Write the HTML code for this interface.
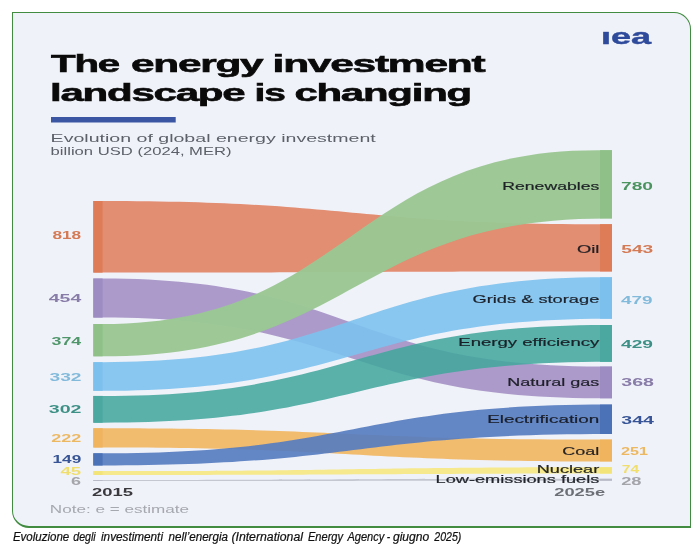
<!DOCTYPE html>
<html lang="en"><head><meta charset="utf-8"><title>The energy investment landscape is changing</title>
<style>
html,body{margin:0;padding:0;background:#fff;}
body{width:700px;height:551px;position:relative;overflow:hidden;font-family:"Liberation Sans",sans-serif;}
.frame{position:absolute;left:12px;top:11.8px;width:679.2px;height:516px;box-sizing:border-box;border:solid #418c40;border-width:1.4px 1.4px 2px 1.8px;border-radius:0 17px 0 17px;background:#f0f2f9;}
svg{position:absolute;left:0;top:0;}
svg text{font-family:"Liberation Sans",sans-serif;}
</style></head><body>
<div class="frame"></div>
<svg width="700" height="551" viewBox="0 0 700 551">
<rect x="51" y="117" width="124.7" height="5.5" fill="#3b57a3"/>
<g>
<path d="M93.3 201.0L102.6 201.0C351.3 201.0 351.3 224.2 600 224.2L612.0 224.2L612.0 271.4L600 271.4C351.3 271.4 351.3 272.6 102.6 272.6L93.3 272.6Z" fill="#e08769" fill-opacity="0.94"/>
<rect x="93.3" y="201.0" width="9.3" height="71.6" fill="#de7c58"/>
<rect x="600.0" y="224.2" width="12.0" height="47.2" fill="#de7c58"/>
<path d="M93.3 278.5L102.6 278.5C351.3 278.5 351.3 366.6 600 366.6L612.0 366.6L612.0 398.3L598 398.3C350.3 398.3 350.3 317.6 102.6 317.6L93.3 317.6Z" fill="#a795c7" fill-opacity="0.94"/>
<rect x="93.3" y="278.5" width="9.3" height="39.1" fill="#9c8cc2"/>
<rect x="600.0" y="366.6" width="12.0" height="31.7" fill="#9c8cc2"/>
<path d="M93.3 428.3L102.6 428.3C351.3 428.3 351.3 439.6 600 439.6L612.0 439.6L612.0 461.4L600 461.4C351.3 461.4 351.3 447.5 102.6 447.5L93.3 447.5Z" fill="#f1b866" fill-opacity="0.94"/>
<rect x="93.3" y="428.3" width="9.3" height="19.2" fill="#f0b45f"/>
<rect x="600.0" y="439.6" width="12.0" height="21.8" fill="#f0b45f"/>
<path d="M93.3 324.1L102.6 324.1C349.8 324.1 349.8 150.2 597 150.2L612.0 150.2L612.0 218.4L606 218.4C354.3 218.4 354.3 356.3 102.6 356.3L93.3 356.3Z" fill="#9ac793" fill-opacity="0.965"/>
<rect x="93.3" y="324.1" width="9.3" height="32.2" fill="#8fc088"/>
<rect x="600.0" y="150.2" width="12.0" height="68.2" fill="#8fc088"/>
<path d="M93.3 362.2L102.6 362.2C354.3 362.2 354.3 277.3 606 277.3L612.0 277.3L612.0 318.7L608 318.7C355.3 318.7 355.3 390.8 102.6 390.8L93.3 390.8Z" fill="#7dc2ee" fill-opacity="0.9"/>
<rect x="93.3" y="362.2" width="9.3" height="28.6" fill="#7cc1ed"/>
<rect x="600.0" y="277.3" width="12.0" height="41.4" fill="#7cc1ed"/>
<path d="M93.3 395.9L102.6 395.9C354.3 395.9 354.3 325.0 606 325.0L612.0 325.0L612.0 361.8L610 361.8C356.3 361.8 356.3 422.7 102.6 422.7L93.3 422.7Z" fill="#43a69d" fill-opacity="0.87"/>
<rect x="93.3" y="395.9" width="9.3" height="26.8" fill="#4aa8a0"/>
<rect x="600.0" y="325.0" width="12.0" height="36.8" fill="#4aa8a0"/>
<path d="M93.3 453.3L102.6 453.3C354.3 453.3 354.3 404.6 606 404.6L612.0 404.6L612.0 434.0L608 434.0C355.3 434.0 355.3 465.5 102.6 465.5L93.3 465.5Z" fill="#577dc0" fill-opacity="0.92"/>
<rect x="93.3" y="453.3" width="9.3" height="12.2" fill="#4b72b6"/>
<rect x="600.0" y="404.6" width="12.0" height="29.4" fill="#4b72b6"/>
<path d="M93.3 471.1L102.6 471.1C351.3 471.1 351.3 467.2 600 467.2L612.0 467.2L612.0 473.6L600 473.6C351.3 473.6 351.3 475.0 102.6 475.0L93.3 475.0Z" fill="#f5e886" fill-opacity="0.94"/>
<rect x="93.3" y="471.1" width="9.3" height="3.9" fill="#f3e47a"/>
<rect x="600.0" y="467.2" width="12.0" height="6.4" fill="#f3e47a"/>
<path d="M93.3 480.0L102.6 480.0C351.3 480.0 351.3 478.8 600 478.8L612.0 478.8L612.0 480.7L600 480.7C351.3 480.7 351.3 481.0 102.6 481.0L93.3 481.0Z" fill="#c0c3cd" fill-opacity="0.94"/>
<rect x="93.3" y="480.0" width="9.3" height="1.0" fill="#b8bbc6"/>
<rect x="600.0" y="478.8" width="12.0" height="1.9" fill="#b8bbc6"/>
</g>
<g>
<text y="71.5" font-size="24" fill="#0a0a0a" font-weight="bold" stroke="#0a0a0a" stroke-width="0.6" letter-spacing="-0.7"><tspan x="51.0" textLength="68.0" lengthAdjust="spacingAndGlyphs">The</tspan> <tspan x="131.0" textLength="131.4" lengthAdjust="spacingAndGlyphs">energy</tspan> <tspan x="272.6" textLength="211.8" lengthAdjust="spacingAndGlyphs">investment</tspan></text>
<text y="100.5" font-size="24" fill="#0a0a0a" font-weight="bold" stroke="#0a0a0a" stroke-width="0.6" letter-spacing="-0.7"><tspan x="50.0" textLength="194.4" lengthAdjust="spacingAndGlyphs">landscape</tspan> <tspan x="254.6" textLength="30.2" lengthAdjust="spacingAndGlyphs">is</tspan> <tspan x="294.4" textLength="176.6" lengthAdjust="spacingAndGlyphs">changing</tspan></text>
<text x="50.6" y="142.0" font-size="11.6" fill="#5c6068" font-weight="normal" text-anchor="start" textLength="325.2" lengthAdjust="spacingAndGlyphs">Evolution of global energy investment</text>
<text x="50.6" y="154.9" font-size="11.6" fill="#5c6068" font-weight="normal" text-anchor="start" textLength="181" lengthAdjust="spacingAndGlyphs">billion USD (2024, MER)</text>
<text x="52.5" y="239.0" font-size="10.89" fill="#d47a54" font-weight="bold" text-anchor="start" textLength="28.7" lengthAdjust="spacingAndGlyphs">818</text>
<text x="48.8" y="301.6" font-size="10.61" fill="#887ca8" font-weight="bold" text-anchor="start" textLength="32.4" lengthAdjust="spacingAndGlyphs">454</text>
<text x="51.5" y="345.2" font-size="10.75" fill="#4f966a" font-weight="bold" text-anchor="start" textLength="29.7" lengthAdjust="spacingAndGlyphs">374</text>
<text x="49.5" y="380.8" font-size="10.89" fill="#82badb" font-weight="bold" text-anchor="start" textLength="32.0" lengthAdjust="spacingAndGlyphs">332</text>
<text x="48.8" y="413.4" font-size="10.89" fill="#3c9086" font-weight="bold" text-anchor="start" textLength="32.7" lengthAdjust="spacingAndGlyphs">302</text>
<text x="51.2" y="441.8" font-size="10.61" fill="#ecb862" font-weight="bold" text-anchor="start" textLength="30.0" lengthAdjust="spacingAndGlyphs">222</text>
<text x="52.5" y="463.0" font-size="10.47" fill="#375596" font-weight="bold" text-anchor="start" textLength="28.7" lengthAdjust="spacingAndGlyphs">149</text>
<text x="60.5" y="474.8" font-size="10.34" fill="#f0de6e" font-weight="bold" text-anchor="start" textLength="20.7" lengthAdjust="spacingAndGlyphs">45</text>
<text x="71.0" y="484.8" font-size="10.61" fill="#a4a5ab" font-weight="bold" text-anchor="start" textLength="10.0" lengthAdjust="spacingAndGlyphs">6</text>
<text x="621.0" y="189.8" font-size="10.89" fill="#4b935f" font-weight="bold" text-anchor="start" textLength="32.0" lengthAdjust="spacingAndGlyphs">780</text>
<text x="621.3" y="253.0" font-size="10.89" fill="#d47a54" font-weight="bold" text-anchor="start" textLength="32.0" lengthAdjust="spacingAndGlyphs">543</text>
<text x="621.0" y="303.5" font-size="10.89" fill="#82badb" font-weight="bold" text-anchor="start" textLength="31.6" lengthAdjust="spacingAndGlyphs">479</text>
<text x="621.0" y="348.0" font-size="10.89" fill="#3c9086" font-weight="bold" text-anchor="start" textLength="32.0" lengthAdjust="spacingAndGlyphs">429</text>
<text x="621.3" y="385.8" font-size="10.89" fill="#887ca8" font-weight="bold" text-anchor="start" textLength="32.7" lengthAdjust="spacingAndGlyphs">368</text>
<text x="621.3" y="424.0" font-size="10.89" fill="#375596" font-weight="bold" text-anchor="start" textLength="32.7" lengthAdjust="spacingAndGlyphs">344</text>
<text x="621.0" y="454.5" font-size="10.75" fill="#ecb862" font-weight="bold" text-anchor="start" textLength="27.0" lengthAdjust="spacingAndGlyphs">251</text>
<text x="621.8" y="472.5" font-size="10.47" fill="#f0de6e" font-weight="bold" text-anchor="start" textLength="17.4" lengthAdjust="spacingAndGlyphs">74</text>
<text x="621.2" y="484.6" font-size="10.61" fill="#a4a5ab" font-weight="bold" text-anchor="start" textLength="20.4" lengthAdjust="spacingAndGlyphs">28</text>
<text x="502.3" y="190.4" font-size="11.8" fill="#15181f" font-weight="normal" text-anchor="start" textLength="97.0" lengthAdjust="spacingAndGlyphs" stroke="#15181f" stroke-width="0.2" fill-opacity="0.93" stroke-opacity="0.93">Renewables</text>
<text x="576.9" y="253.3" font-size="11.8" fill="#15181f" font-weight="normal" text-anchor="start" textLength="22.4" lengthAdjust="spacingAndGlyphs" stroke="#15181f" stroke-width="0.2" fill-opacity="0.93" stroke-opacity="0.93">Oil</text>
<text x="472.5" y="302.9" font-size="11.8" fill="#15181f" font-weight="normal" text-anchor="start" textLength="126.8" lengthAdjust="spacingAndGlyphs" stroke="#15181f" stroke-width="0.2" fill-opacity="0.93" stroke-opacity="0.93">Grids &amp; storage</text>
<text x="458.3" y="346.1" font-size="11.8" fill="#15181f" font-weight="normal" text-anchor="start" textLength="141.0" lengthAdjust="spacingAndGlyphs" stroke="#15181f" stroke-width="0.2" fill-opacity="0.93" stroke-opacity="0.93">Energy efficiency</text>
<text x="507.3" y="385.6" font-size="11.8" fill="#15181f" font-weight="normal" text-anchor="start" textLength="92.0" lengthAdjust="spacingAndGlyphs" stroke="#15181f" stroke-width="0.2" fill-opacity="0.93" stroke-opacity="0.93">Natural gas</text>
<text x="487.2" y="423.4" font-size="11.8" fill="#15181f" font-weight="normal" text-anchor="start" textLength="112.1" lengthAdjust="spacingAndGlyphs" stroke="#15181f" stroke-width="0.2" fill-opacity="0.93" stroke-opacity="0.93">Electrification</text>
<text x="562.3" y="454.8" font-size="11.8" fill="#15181f" font-weight="normal" text-anchor="start" textLength="37.0" lengthAdjust="spacingAndGlyphs" stroke="#15181f" stroke-width="0.2" fill-opacity="0.93" stroke-opacity="0.93">Coal</text>
<text x="536.7" y="473.1" font-size="11.8" fill="#15181f" font-weight="normal" text-anchor="start" textLength="62.6" lengthAdjust="spacingAndGlyphs" stroke="#15181f" stroke-width="0.2" fill-opacity="0.93" stroke-opacity="0.93">Nuclear</text>
<text x="435.6" y="483.4" font-size="11.8" fill="#15181f" font-weight="normal" text-anchor="start" textLength="163.7" lengthAdjust="spacingAndGlyphs" stroke="#15181f" stroke-width="0.2" fill-opacity="0.93" stroke-opacity="0.93">Low-emissions fuels</text>
<text x="92" y="495.9" font-size="11.5" fill="#3a3a3e" font-weight="bold" text-anchor="start" textLength="41" lengthAdjust="spacingAndGlyphs">2015</text>
<text x="554.2" y="496.0" font-size="11.3" fill="#6c7076" font-weight="bold" text-anchor="start" textLength="51" lengthAdjust="spacingAndGlyphs">2025e</text>
<text x="49.8" y="512.5" font-size="11" fill="#a6a8af" font-weight="normal" text-anchor="start" textLength="139.2" lengthAdjust="spacingAndGlyphs">Note: e = estimate</text>
</g>
<text y="541.4" font-size="12.3" fill="#111" font-weight="normal" font-style="italic" stroke="#111" stroke-width="0.22"><tspan x="12.9" textLength="56.4" lengthAdjust="spacingAndGlyphs">Evoluzione</tspan> <tspan x="73.3" textLength="22.4" lengthAdjust="spacingAndGlyphs">degli</tspan> <tspan x="101.0" textLength="62.0" lengthAdjust="spacingAndGlyphs">investimenti</tspan> <tspan x="168.6" textLength="59.4" lengthAdjust="spacingAndGlyphs">nell’energia</tspan> <tspan x="231.4" textLength="71.6" lengthAdjust="spacingAndGlyphs">(International</tspan> <tspan x="308.0" textLength="35.0" lengthAdjust="spacingAndGlyphs">Energy</tspan> <tspan x="347.4" textLength="36.9" lengthAdjust="spacingAndGlyphs">Agency</tspan> <tspan x="386.8" textLength="3.4" lengthAdjust="spacingAndGlyphs">-</tspan> <tspan x="392.9" textLength="36.4" lengthAdjust="spacingAndGlyphs">giugno</tspan> <tspan x="434.3" textLength="27.1" lengthAdjust="spacingAndGlyphs">2025)</tspan></text>
<clipPath id="lc"><rect x="598" y="31.2" width="58" height="14"/></clipPath>
<g clip-path="url(#lc)"><text x="600.9" y="44" font-size="21.6" font-weight="bold" fill="#2e4a9b" stroke="#2e4a9b" stroke-width="0.4" textLength="50.2" lengthAdjust="spacingAndGlyphs">iea</text></g>
</svg>
</body></html>
